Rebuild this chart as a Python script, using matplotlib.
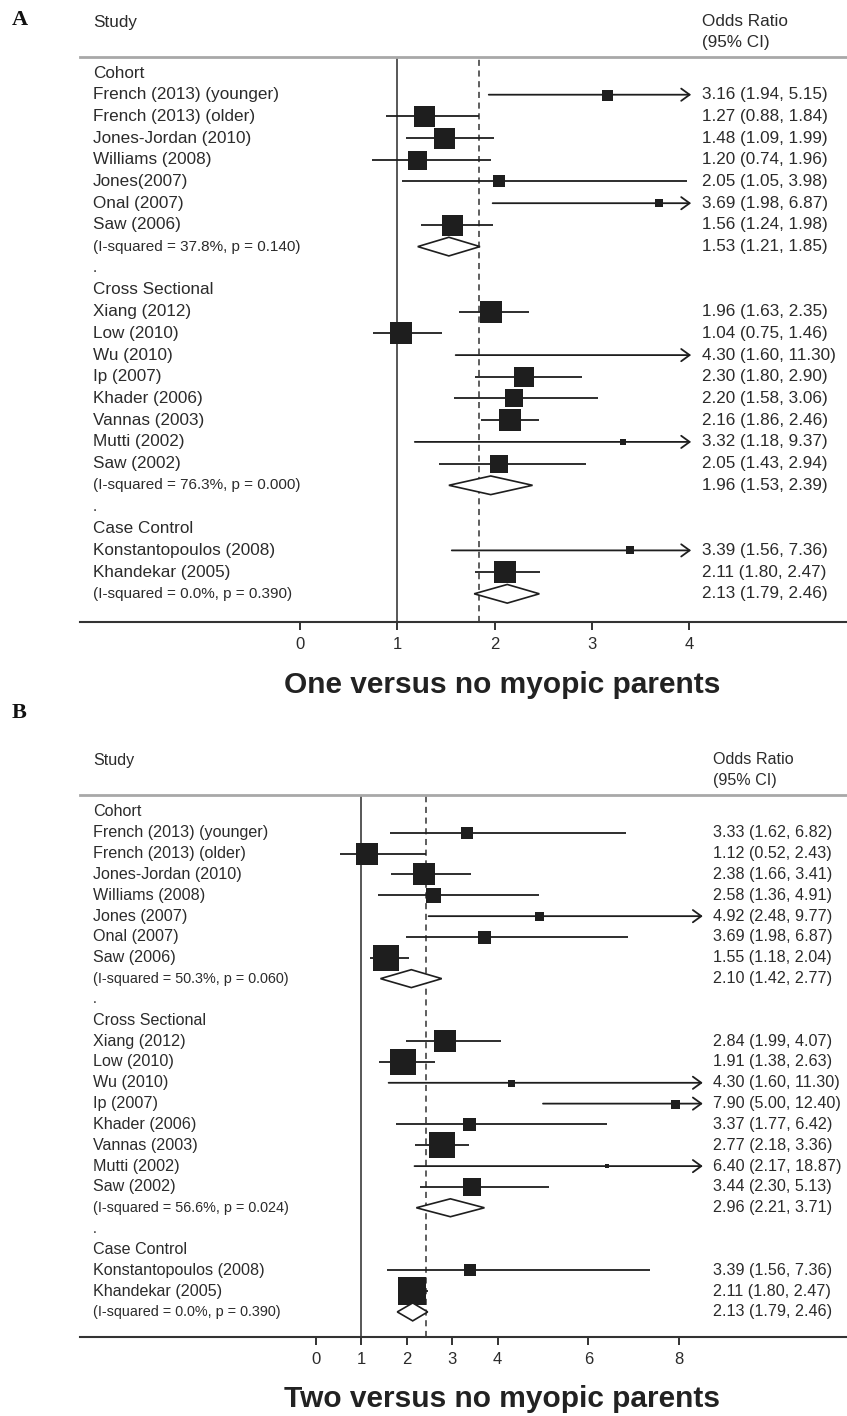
import matplotlib
matplotlib.use("Agg")
import matplotlib.pyplot as plt
import matplotlib.transforms as mtransforms
from matplotlib.patches import Polygon

plt.rcParams["font.family"] = ["Liberation Sans", "DejaVu Sans"]

# --- data ---
groups = ["Cohort", "Cross Sectional", "Case Control"]
group_counts = [7, 8, 2]

a_names = ["French (2013) (younger)", "French (2013) (older)", "Jones-Jordan (2010)",
           "Williams (2008)", "Jones(2007)", "Onal (2007)", "Saw (2006)",
           "Xiang (2012)", "Low (2010)", "Wu (2010)", "Ip (2007)", "Khader (2006)",
           "Vannas (2003)", "Mutti (2002)", "Saw (2002)",
           "Konstantopoulos (2008)", "Khandekar (2005)"]
a_or = [3.16, 1.27, 1.48, 1.20, 2.05, 3.69, 1.56,
        1.96, 1.04, 4.30, 2.30, 2.20, 2.16, 3.32, 2.05,
        3.39, 2.11]
a_lo = [1.94, 0.88, 1.09, 0.74, 1.05, 1.98, 1.24,
        1.63, 0.75, 1.60, 1.80, 1.58, 1.86, 1.18, 1.43,
        1.56, 1.80]
a_hi = [5.15, 1.84, 1.99, 1.96, 3.98, 6.87, 1.98,
        2.35, 1.46, 11.30, 2.90, 3.06, 2.46, 9.37, 2.94,
        7.36, 2.47]
a_box = [11, 21, 21, 19, 12, 8, 21,
         22, 22, 3, 20, 18, 22, 6, 18,
         8, 22]
a_pool_or = [1.53, 1.96, 2.13]
a_pool_lo = [1.21, 1.53, 1.79]
a_pool_hi = [1.85, 2.39, 2.46]
a_het = ["(I-squared = 37.8%, p = 0.140)", "(I-squared = 76.3%, p = 0.000)",
         "(I-squared = 0.0%, p = 0.390)"]

b_names = ["French (2013) (younger)", "French (2013) (older)", "Jones-Jordan (2010)",
           "Williams (2008)", "Jones (2007)", "Onal (2007)", "Saw (2006)",
           "Xiang (2012)", "Low (2010)", "Wu (2010)", "Ip (2007)", "Khader (2006)",
           "Vannas (2003)", "Mutti (2002)", "Saw (2002)",
           "Konstantopoulos (2008)", "Khandekar (2005)"]
b_or = [3.33, 1.12, 2.38, 2.58, 4.92, 3.69, 1.55,
        2.84, 1.91, 4.30, 7.90, 3.37, 2.77, 6.40, 3.44,
        3.39, 2.11]
b_lo = [1.62, 0.52, 1.66, 1.36, 2.48, 1.98, 1.18,
        1.99, 1.38, 1.60, 5.00, 1.77, 2.18, 2.17, 2.30,
        1.56, 1.80]
b_hi = [6.82, 2.43, 3.41, 4.91, 9.77, 6.87, 2.04,
        4.07, 2.63, 11.30, 12.40, 6.42, 3.36, 18.87, 5.13,
        7.36, 2.47]
b_box = [12, 22, 23, 15, 9, 13, 27,
         22, 26, 7, 9, 13, 26, 5, 18,
         12, 28]
b_pool_or = [2.10, 2.96, 2.13]
b_pool_lo = [1.42, 2.21, 1.79]
b_pool_hi = [2.77, 3.71, 2.46]
b_het = ["(I-squared = 50.3%, p = 0.060)", "(I-squared = 56.6%, p = 0.024)",
         "(I-squared = 0.0%, p = 0.390)"]

a_ticks = [0, 1, 2, 3, 4]
b_ticks = [0, 1, 2, 3, 4, 6, 8]
a_overall = 1.84
b_overall = 2.43

W, H = 847, 1416
TXT = "#2b2b2b"
INK = "#1e1e1e"

fig = plt.figure(figsize=(W / 100, H / 100), dpi=100)


def px_axes(left, top, right, bottom):
    return fig.add_axes([left / W, 1 - bottom / H, (right - left) / W, (bottom - top) / H])


def forest(ax, names, est, lo, hi, box, p_or, p_lo, p_hi, het, clip, overall,
           xlim, ylim, ticks, head_y, xv, fs, fs_small):
    ax.set_xlim(*xlim)
    ax.set_ylim(*ylim)
    tr = mtransforms.blended_transform_factory(ax.transAxes, ax.transData)
    xl = 13 / 767
    xv = (xv - 80) / 767

    ax.axvline(1, color="#4a4a4a", lw=1.3, zorder=1)
    ax.axvline(overall, color="#333333", lw=1.1, dashes=(4, 3), zorder=1)

    row = 0
    k = 0
    for g, n in enumerate(group_counts):
        ax.text(xl, row, groups[g], transform=tr, va="center", fontsize=fs, color=TXT)
        for j in range(n):
            r = row + 1 + j
            ax.text(xl, r, names[k], transform=tr, va="center", fontsize=fs, color=TXT)
            ax.text(xv, r, "%.2f (%.2f, %.2f)" % (est[k], lo[k], hi[k]), transform=tr,
                    va="center", fontsize=fs, color=TXT)
            if hi[k] > clip:
                ax.annotate("", xy=(clip, r), xytext=(lo[k], r),
                            arrowprops=dict(arrowstyle="->,head_length=0.55,head_width=0.4",
                                            lw=1.3, color=INK, shrinkA=0, shrinkB=0,
                                            mutation_scale=11),
                            annotation_clip=False, zorder=2)
            else:
                ax.plot([lo[k], hi[k]], [r, r], color=INK, lw=1.3, zorder=2,
                        solid_capstyle="butt")
            if est[k] < clip:
                ax.plot(est[k], r, marker="s", ms=box[k] * 0.72, color=INK, mew=0, zorder=3)
            k += 1
        r = row + n + 1
        d = 0.43
        ax.add_patch(Polygon([[p_lo[g], r], [p_or[g], r - d], [p_hi[g], r], [p_or[g], r + d]],
                             closed=True, facecolor="white", edgecolor=INK, lw=1.2, zorder=4))
        ax.text(xl, r, het[g], transform=tr, va="center", fontsize=fs_small, color=TXT)
        ax.text(xv, r, "%.2f (%.2f, %.2f)" % (p_or[g], p_lo[g], p_hi[g]), transform=tr,
                va="center", fontsize=fs, color=TXT)
        if g < len(group_counts) - 1:
            ax.text(xl, r + 1, ".", transform=tr, va="center", fontsize=fs_small, color=TXT)
        row = r + 2

    ax.text(xl, head_y[0], "Study", transform=tr, va="center", fontsize=fs, color=TXT)
    ax.text(xv, head_y[0], "Odds Ratio", transform=tr, va="center", fontsize=fs, color=TXT)
    ax.text(xv, head_y[1], "(95% CI)", transform=tr, va="center", fontsize=fs, color=TXT)

    for s in ["left", "right"]:
        ax.spines[s].set_visible(False)
    ax.spines["top"].set_color("#a8a8a8")
    ax.spines["top"].set_linewidth(2)
    ax.spines["bottom"].set_color("#333333")
    ax.spines["bottom"].set_linewidth(1.5)
    ax.set_yticks([])
    ax.set_xticks(ticks)
    ax.set_xticklabels([str(t) for t in ticks])
    ax.tick_params(axis="x", length=6, width=1.4, labelsize=12, pad=5,
                   colors="#333333", labelcolor=TXT)
    ax.patch.set_alpha(0)


# panel A: axes from x=80 to 847 px, tick 0 at 300 px, 97.3 px per unit
ax_a = px_axes(80, 57, 847, 622)
forest(ax_a, a_names, a_or, a_lo, a_hi, a_box, a_pool_or, a_pool_lo, a_pool_hi, a_het,
       clip=4.02, overall=a_overall,
       xlim=(-220 / 97.3, 547 / 97.3), ylim=((622 - 73) / 21.7, (57 - 73) / 21.7),
       ticks=a_ticks, head_y=((22 - 73) / 21.7, (42 - 73) / 21.7),
       xv=702, fs=12.3, fs_small=11)

# panel B: tick 0 at 316 px, 45.4 px per unit
ax_b = px_axes(80, 795, 847, 1337)
forest(ax_b, b_names, b_or, b_lo, b_hi, b_box, b_pool_or, b_pool_lo, b_pool_hi, b_het,
       clip=8.52, overall=b_overall,
       xlim=(-236 / 45.4, 531 / 45.4), ylim=((1337 - 812) / 20.83, (795 - 812) / 20.83),
       ticks=b_ticks, head_y=((760 - 812) / 20.83, (780 - 812) / 20.83),
       xv=713, fs=11.6, fs_small=10.4)

fig.text(12 / W, 1 - 20 / H, "A", fontsize=16, fontweight="bold", family="Liberation Serif",
         va="center", color="#111111")
fig.text(12 / W, 1 - 713 / H, "B", fontsize=16, fontweight="bold", family="Liberation Serif",
         va="center", color="#111111")

fig.text(502 / W, 1 - 685 / H, "One versus no myopic parents", fontsize=21.5, fontweight="bold",
         ha="center", va="center", color="#222222")
fig.text(502 / W, 1 - 1399 / H, "Two versus no myopic parents", fontsize=21.5, fontweight="bold",
         ha="center", va="center", color="#222222")

fig.savefig("out.png", dpi=100)
